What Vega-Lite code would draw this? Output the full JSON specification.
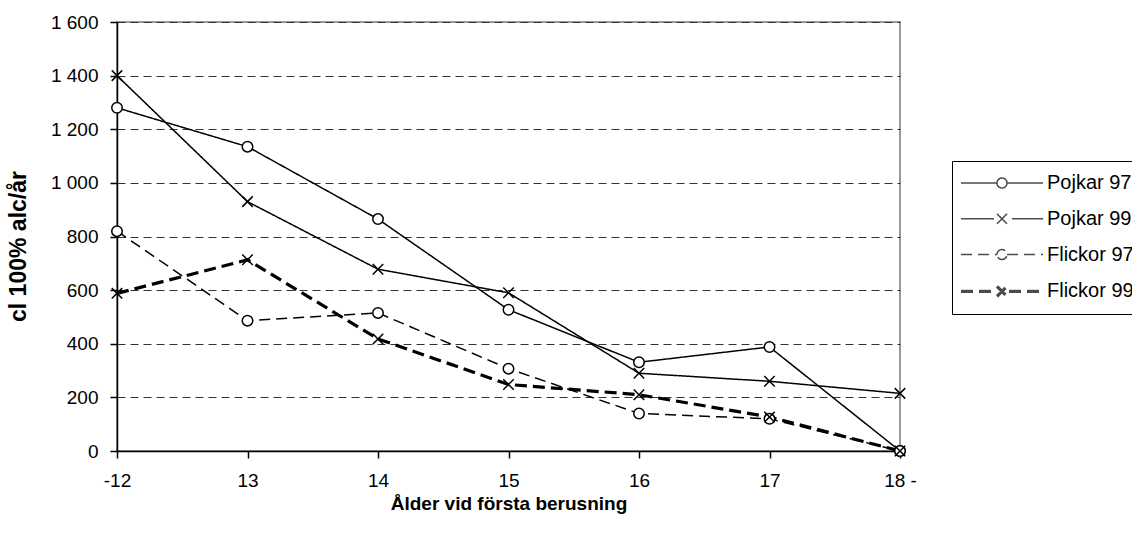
{
  "$schema": "https://vega.github.io/schema/vega-lite/v6.json",
  "width": 783,
  "height": 429,
  "autosize": {"type": "none"},
  "padding": {"left": 117, "top": 22, "right": 232, "bottom": 82},
  "background": "white",
  "config": {
    "font": "Liberation Sans",
    "view": {"stroke": "#9a9a9a", "strokeWidth": 2}
  },
  "data": {
    "values": [
      {"series": "Pojkar 97", "age": "-12", "value": 1280},
      {"series": "Pojkar 97", "age": "13", "value": 1135},
      {"series": "Pojkar 97", "age": "14", "value": 865},
      {"series": "Pojkar 97", "age": "15", "value": 527},
      {"series": "Pojkar 97", "age": "16", "value": 331},
      {"series": "Pojkar 97", "age": "17", "value": 388},
      {"series": "Pojkar 97", "age": "18 -", "value": 0},
      {"series": "Pojkar 99", "age": "-12", "value": 1400},
      {"series": "Pojkar 99", "age": "13", "value": 930},
      {"series": "Pojkar 99", "age": "14", "value": 678},
      {"series": "Pojkar 99", "age": "15", "value": 590},
      {"series": "Pojkar 99", "age": "16", "value": 290},
      {"series": "Pojkar 99", "age": "17", "value": 260},
      {"series": "Pojkar 99", "age": "18 -", "value": 215},
      {"series": "Flickor 97", "age": "-12", "value": 820},
      {"series": "Flickor 97", "age": "13", "value": 486},
      {"series": "Flickor 97", "age": "14", "value": 515},
      {"series": "Flickor 97", "age": "15", "value": 307},
      {"series": "Flickor 97", "age": "16", "value": 140},
      {"series": "Flickor 97", "age": "17", "value": 120},
      {"series": "Flickor 97", "age": "18 -", "value": 0},
      {"series": "Flickor 99", "age": "-12", "value": 588},
      {"series": "Flickor 99", "age": "13", "value": 713},
      {"series": "Flickor 99", "age": "14", "value": 418},
      {"series": "Flickor 99", "age": "15", "value": 248},
      {"series": "Flickor 99", "age": "16", "value": 210},
      {"series": "Flickor 99", "age": "17", "value": 127},
      {"series": "Flickor 99", "age": "18 -", "value": 0}
    ]
  },
  "encoding": {
    "x": {
      "field": "age",
      "type": "ordinal",
      "sort": ["-12", "13", "14", "15", "16", "17", "18 -"],
      "scale": {"type": "point", "padding": 0},
      "axis": {
        "title": "Ålder vid första berusning",
        "titleFontSize": 19,
        "titleFontWeight": "bold",
        "titleColor": "black",
        "titleBaseline": "middle",
        "titleY": 52,
        "labelAngle": 0,
        "labelFontSize": 19,
        "labelColor": "black",
        "labelPadding": 13,
        "tickSize": 7,
        "tickColor": "black",
        "tickWidth": 1.5,
        "domainColor": "black",
        "domainWidth": 1.5,
        "grid": false
      }
    },
    "y": {
      "field": "value",
      "type": "quantitative",
      "scale": {"domain": [0, 1600], "nice": false},
      "axis": {
        "title": "cl 100% alc/år",
        "titleFontSize": 23,
        "titleFontWeight": "bold",
        "titleColor": "black",
        "titleAngle": 270,
        "titleAlign": "center",
        "titleBaseline": "middle",
        "titleX": -99,
        "titleY": 224,
        "values": [0, 200, 400, 600, 800, 1000, 1200, 1400, 1600],
        "labelExpr": "replace(format(datum.value, ','), ',', ' ')",
        "labelFontSize": 19,
        "labelColor": "black",
        "labelPadding": 12,
        "tickSize": 7,
        "tickColor": "black",
        "tickWidth": 1.5,
        "domainColor": "black",
        "domainWidth": 1.5,
        "grid": true,
        "gridColor": "#333333",
        "gridDash": [8, 5],
        "gridWidth": 1
      }
    }
  },
  "layer": [
    {
      "mark": {"type": "line", "color": "black"},
      "encoding": {
        "strokeDash": {
          "field": "series",
          "type": "nominal",
          "scale": {
            "domain": ["Pojkar 97", "Pojkar 99", "Flickor 97", "Flickor 99"],
            "range": [[1, 0], [1, 0], [11, 6], [12, 6]]
          },
          "legend": {
            "title": null,
            "orient": "none",
            "legendX": 835,
            "legendY": 139,
            "strokeColor": "black",
            "padding": 11,
            "rowPadding": 14.8,
            "symbolSize": 400,
            "symbolOffset": 27,
            "symbolStrokeColor": "black",
            "symbolStrokeWidth": 1.5,
            "labelFontSize": 20,
            "labelColor": "black",
            "labelOffset": 33,
            "labelLimit": 0
          }
        },
        "strokeWidth": {
          "field": "series",
          "type": "ordinal",
          "scale": {
            "domain": ["Pojkar 97", "Pojkar 99", "Flickor 97", "Flickor 99"],
            "range": [1.5, 1.5, 1.5, 3.2],
            "type": "ordinal"
          },
          "legend": null
        }
      }
    },
    {
      "transform": [{"filter": "datum.series === 'Pojkar 97' || datum.series === 'Flickor 97'"}],
      "mark": {"type": "point", "shape": "circle", "filled": false, "fill": "white", "stroke": "black", "strokeWidth": 1.5, "size": 110, "opacity": 1},
      "encoding": {}
    },
    {
      "transform": [{"filter": "datum.series === 'Pojkar 99' || datum.series === 'Flickor 99'"}],
      "mark": {"type": "point", "shape": "M-1,-1L1,1M-1,1L1,-1", "filled": false, "stroke": "black", "strokeWidth": 1.5, "size": 110, "opacity": 1},
      "encoding": {}
    },
    {
      "transform": [{"filter": "datum.value < 0"}],
      "mark": {"type": "point", "filled": false, "stroke": "black", "strokeWidth": 1.5},
      "encoding": {
        "shape": {
          "field": "series",
          "type": "nominal",
          "scale": {
            "domain": ["Pojkar 97", "Pojkar 99", "Flickor 97", "Flickor 99"],
            "range": [
              "M-4.1,0L-0.5,0M0.5,0L4.1,0M-0.5,0A0.5,0.5,0,1,1,0.5,0A0.5,0.5,0,1,1,-0.5,0Z",
              "M-4.1,0L-0.8,0M-0.5,-0.5L0.5,0.5M-0.5,0.5L0.5,-0.5M1.0,0L4.1,0",
              "M-4.1,0L-0.5,0M0.5,0L4.1,0M-0.5,0A0.5,0.5,0,1,1,0.5,0A0.5,0.5,0,1,1,-0.5,0Z",
              "M-4.1,0L-0.7,0M-0.5,-0.5L0.5,0.5M-0.5,0.5L0.5,-0.5M0.7,0L4.1,0"
            ]
          },
          "legend": {
            "title": null,
            "orient": "none",
            "legendX": 835,
            "legendY": 139,
            "strokeColor": "black",
            "padding": 11,
            "rowPadding": 14.8,
            "symbolSize": 400,
            "symbolOffset": 27,
            "symbolStrokeColor": "black",
            "symbolStrokeWidth": 1.5,
            "labelFontSize": 20,
            "labelColor": "black",
            "labelOffset": 33,
            "labelLimit": 0
          }
        }
      }
    }
  ]
}
